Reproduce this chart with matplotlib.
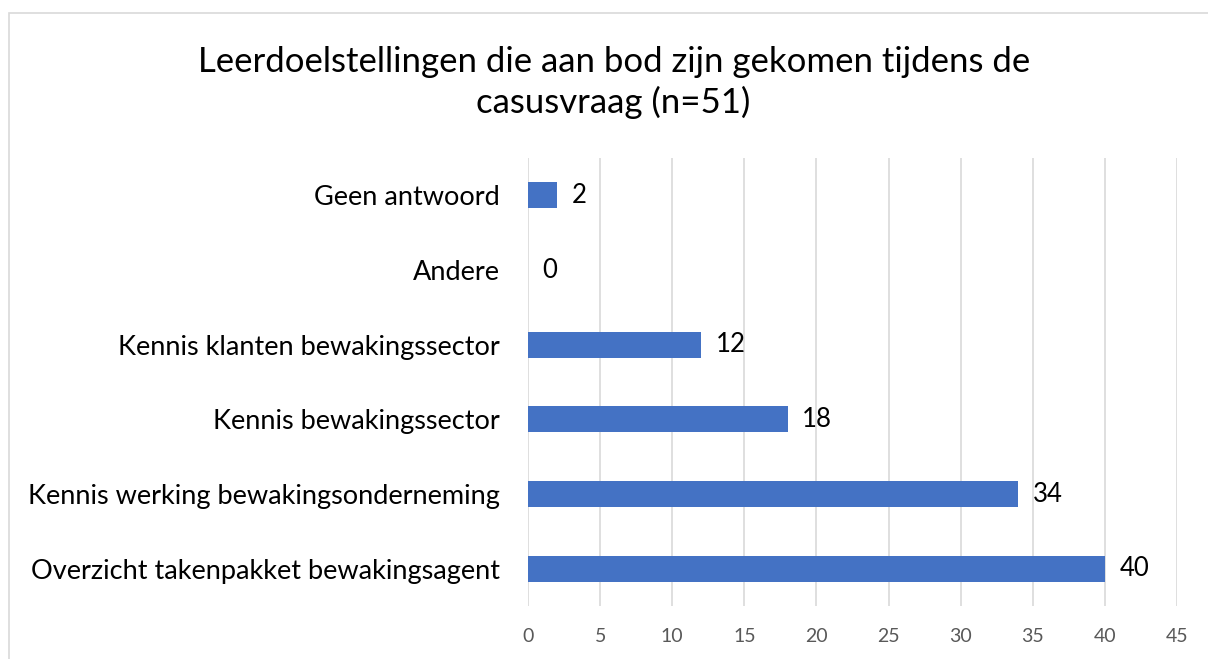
import matplotlib
matplotlib.use("Agg")
import matplotlib.pyplot as plt
from matplotlib.patches import Rectangle

categories = [
    "Overzicht takenpakket bewakingsagent",
    "Kennis werking bewakingsonderneming",
    "Kennis bewakingssector",
    "Kennis klanten bewakingssector",
    "Andere",
    "Geen antwoord",
]
values = [40, 34, 18, 12, 0, 2]
xticks = [0, 5, 10, 15, 20, 25, 30, 35, 40, 45]
title = "Leerdoelstellingen die aan bod zijn gekomen tijdens de\ncasusvraag (n=51)"

plt.rcParams["font.family"] = ["Lato", "DejaVu Sans"]

fig = plt.figure(figsize=(12.08, 6.59), dpi=100)
ax = fig.add_axes([0.4371, 0.0804, 0.5372, 0.6798])

# light frame around the chart
fig.patches.append(Rectangle((9 / 1208, -0.1), 1.2, 1 - 13 / 659 + 0.1,
                             transform=fig.transFigure, fill=False,
                             edgecolor="#d9d9d9", linewidth=1.2))

y = range(len(categories))
ax.barh(y, values, height=0.35, color="#4472c4", zorder=3)
for yi, v in zip(y, values):
    ax.text(v + 1.0, yi, str(v), va="center", ha="left", fontsize=18.5, color="black")

ax.set_xlim(0, 45)
ax.set_ylim(-0.5, len(categories) - 0.5)
ax.set_xticks(xticks)
ax.set_yticks(list(y))
ax.set_yticklabels(categories, fontsize=19.5, color="black")
ax.tick_params(axis="x", labelsize=14, colors="#595959", length=0, pad=16)
ax.tick_params(axis="y", length=0, pad=20)
ax.grid(axis="x", color="#d9d9d9", linewidth=1.2, zorder=0)
for s in ax.spines.values():
    s.set_visible(False)

fig.text(0.508, 0.93, title, ha="center", va="top", fontsize=25,
         color="black", linespacing=1.3)

fig.savefig("out.png", dpi=100)
